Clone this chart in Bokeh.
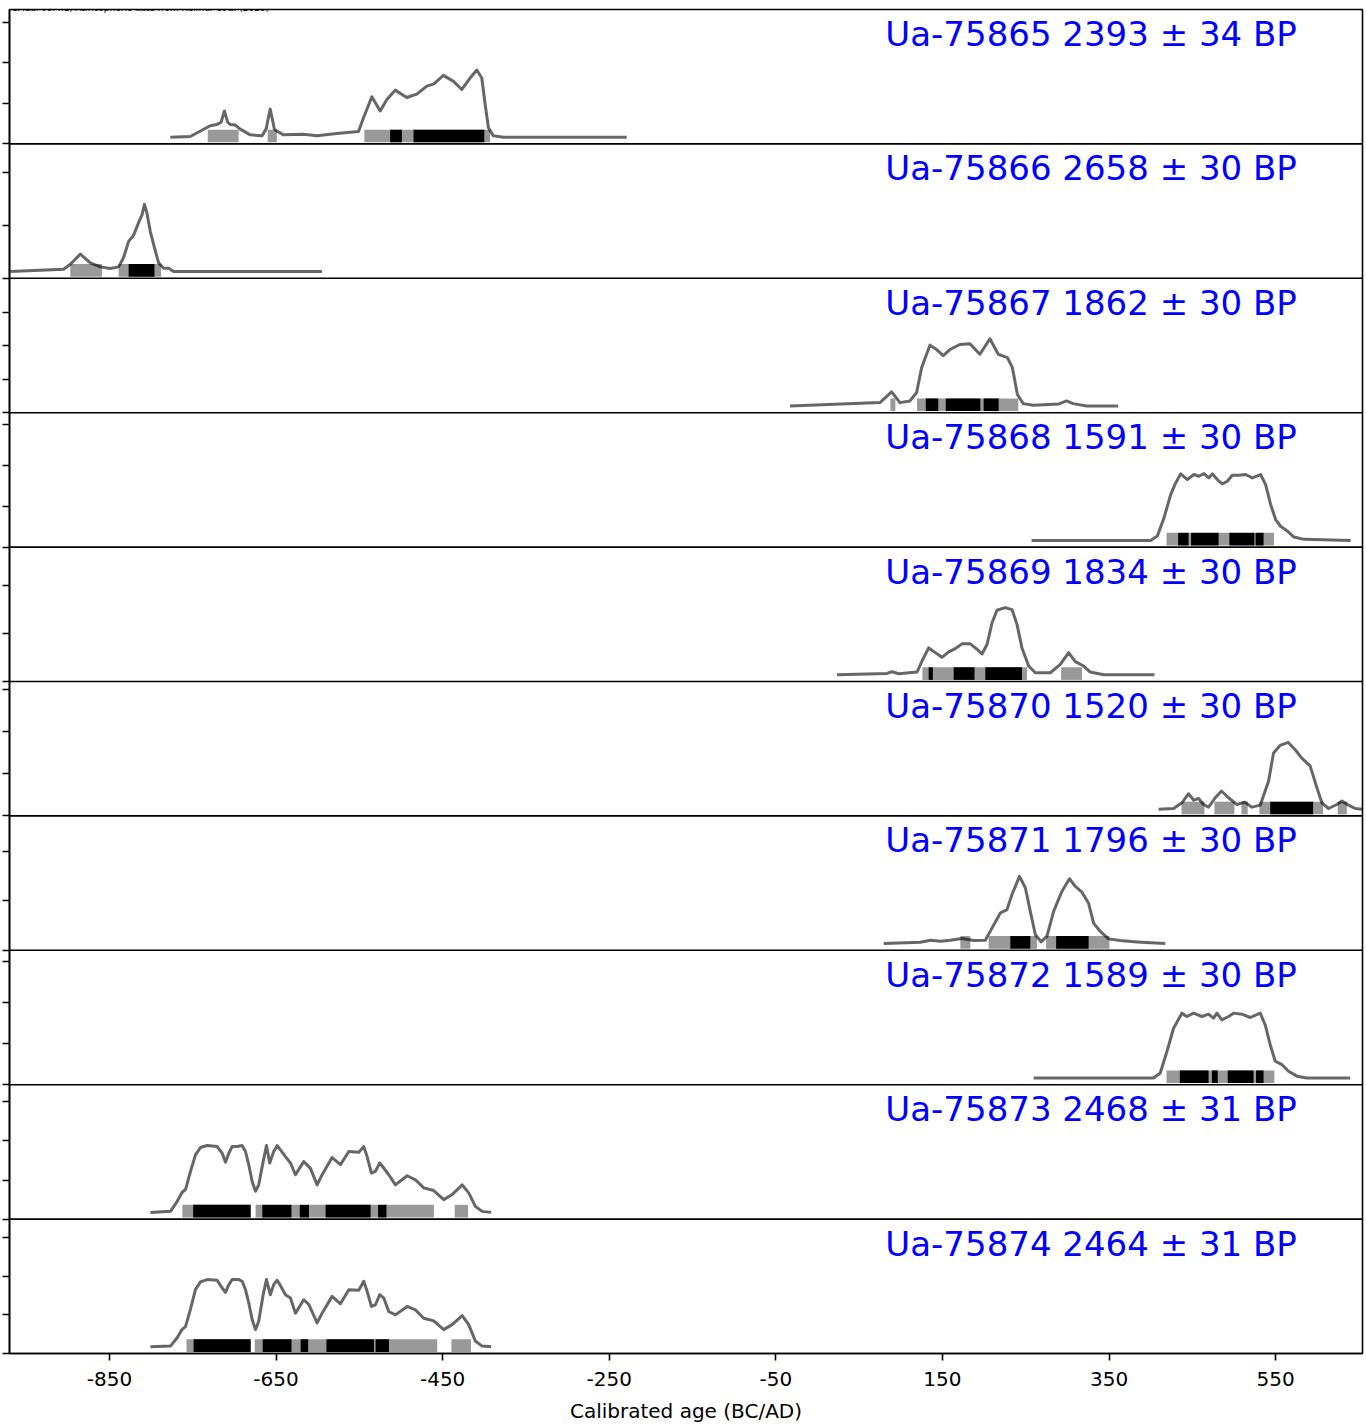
import numpy as np
from bokeh.plotting import figure
from bokeh.models import Range1d, FixedTicker, Span, Label, CustomJSTickFormatter
from bokeh.embed import file_html
from bokeh.resources import INLINE
from bokeh.core.properties import value

FONT = "DejaVu Sans"

title_text = "IOSACal v0.4.1, Atmospheric data from Reimer et al (2020)"
x_label = "Calibrated age (BC/AD)"
xticks = [-850, -650, -450, -250, -50, 150, 350, 550]

labels = [
    "Ua-75865 2393 ± 34 BP", "Ua-75866 2658 ± 30 BP", "Ua-75867 1862 ± 30 BP",
    "Ua-75868 1591 ± 30 BP", "Ua-75869 1834 ± 30 BP", "Ua-75870 1520 ± 30 BP",
    "Ua-75871 1796 ± 30 BP", "Ua-75872 1589 ± 30 BP", "Ua-75873 2468 ± 31 BP",
    "Ua-75874 2464 ± 31 BP",
]

# calibrated probability curves: year (BC/AD) and probability relative to peak
yrs1 = [-777, -753, -729, -721, -716, -712, -708, -705, -699, -693, -681, -667, -662, -659, -657, -655, -652, -649, -641, -617, -601, -577, -561, -551, -545, -535, -525, -517, -507, -493, -481, -469, -461, -449, -437, -427, -417, -409, -403, -399, -395, -389, -377, -229]
rel1 = [0, 0.01, 0.17, 0.19, 0.22, 0.39, 0.22, 0.19, 0.18, 0.12, 0.035, 0.02, 0.12, 0.3, 0.42, 0.3, 0.12, 0.09, 0.035, 0.045, 0.02, 0.055, 0.075, 0.085, 0.29, 0.60, 0.39, 0.56, 0.70, 0.59, 0.64, 0.76, 0.79, 0.92, 0.83, 0.71, 0.88, 1.0, 0.88, 0.49, 0.14, 0.02, 0, 0]
yrs2 = [-969, -905, -897, -885, -873, -861, -849, -839, -833, -827, -821, -815, -811, -808, -805, -801, -796, -791, -785, -779, -773, -595]
rel2 = [0, 0.035, 0.11, 0.26, 0.13, 0.07, 0.045, 0.07, 0.21, 0.45, 0.54, 0.73, 0.84, 1.0, 0.87, 0.60, 0.355, 0.13, 0.05, 0.05, 0, 0]
yrs3 = [-33, 75, 89, 99, 111, 119, 125, 135, 143, 151, 159, 171, 183, 195, 207, 217, 228, 234, 240, 247, 259, 290, 299, 307, 323, 361]
rel3 = [0, 0.05, 0.21, 0.05, 0.075, 0.2, 0.57, 0.905, 0.84, 0.75, 0.84, 0.915, 0.925, 0.77, 1.0, 0.77, 0.72, 0.57, 0.17, 0.035, 0.01, 0.03, 0.075, 0.035, 0, 0]
yrs4 = [257, 400, 408, 416, 424, 430, 436, 444, 452, 458, 464, 470, 474, 480, 486, 492, 498, 506, 514, 522, 532, 538, 544, 550, 556, 564, 572, 584, 640]
rel4 = [0, 0, 0.065, 0.335, 0.68, 0.855, 0.99, 0.905, 0.98, 0.955, 0.995, 0.93, 0.99, 0.905, 0.84, 0.88, 0.97, 0.97, 0.98, 0.93, 0.98, 0.83, 0.535, 0.31, 0.21, 0.14, 0.05, 0.015, 0]
yrs5 = [23.5, 83.5, 89.5, 97.5, 119.5, 125.5, 133.5, 141.5, 149.5, 157.5, 165.5, 173.5, 183.5, 191.5, 197.5, 203.5, 209.5, 215.5, 225.5, 233.5, 239.5, 245.5, 253.5, 261.5, 279.5, 291.5, 301.5, 309.5, 319.5, 327.5, 343.5, 404.5]
rel5 = [0, 0.02, 0.045, 0.015, 0.04, 0.205, 0.40, 0.33, 0.26, 0.34, 0.39, 0.46, 0.46, 0.38, 0.31, 0.45, 0.77, 0.96, 1.0, 0.97, 0.75, 0.40, 0.13, 0.03, 0.03, 0.155, 0.33, 0.195, 0.13, 0.04, 0, 0]
yrs6 = [409.5, 427.5, 437.5, 445.5, 451.5, 457.5, 463.5, 469.5, 477.5, 485, 493.5, 503.5, 513, 521.5, 531.5, 541.5, 547.5, 555.5, 565, 573.5, 581.5, 591.5, 599.5, 605.5, 613.5, 623.5, 629.5, 637.5, 645.5, 655]
rel6 = [0, 0.01, 0.095, 0.23, 0.135, 0.16, 0.07, 0.03, 0.17, 0.27, 0.17, 0.07, 0.105, 0.03, 0.06, 0.415, 0.835, 0.95, 0.995, 0.885, 0.76, 0.64, 0.32, 0.095, 0.01, 0.07, 0.12, 0.06, 0.01, 0]
yrs7 = [79.5, 123.5, 135.5, 147.5, 159.5, 173.5, 187.5, 201.5, 209.5, 219.5, 227.5, 233.5, 242.5, 249.5, 255.5, 261.5, 268.5, 275.5, 283.5, 293.5, 302.5, 309.5, 317.5, 325.5, 331.5, 339.5, 349.5, 363.5, 383.5, 417.5]
rel7 = [0, 0.02, 0.05, 0.035, 0.05, 0.075, 0.045, 0.05, 0.23, 0.455, 0.505, 0.73, 1.0, 0.83, 0.48, 0.135, 0.025, 0.11, 0.48, 0.78, 0.965, 0.85, 0.765, 0.60, 0.305, 0.18, 0.07, 0.045, 0.025, 0]
yrs8 = [259.5, 403.5, 411.5, 419.5, 427.5, 437.5, 443.5, 451.5, 461.5, 469.5, 475.5, 479.5, 485.5, 493.5, 499.5, 509.5, 519.5, 531.5, 537.5, 543.5, 549.5, 557.5, 565.5, 575.5, 587.5, 639.5]
rel8 = [0, 0, 0.075, 0.395, 0.74, 0.965, 0.915, 0.965, 0.915, 0.95, 0.89, 0.965, 0.865, 0.915, 0.965, 0.95, 0.9, 0.965, 0.79, 0.495, 0.25, 0.2, 0.1, 0.027, 0, 0]
yrs9 = [-800.8, -776.8, -768.7, -762.7, -758.7, -752.7, -746.7, -740.7, -732.7, -720.7, -714.7, -710.7, -706.7, -702.7, -696.7, -690.7, -686.7, -682.8, -678.7, -674.7, -670.8, -665.5, -661.5, -657.6, -652.8, -648.7, -644.7, -638.7, -632.7, -626.7, -616.8, -608.7, -600.7, -594.7, -582.7, -572.7, -562.7, -550.7, -544.7, -540.7, -535.5, -530.7, -525.5, -520.7, -514.7, -506.7, -492.6, -482.7, -472.7, -460.7, -448.7, -438.6, -426.6, -418.7, -410.7, -402.6, -391.8]
rel9 = [0, 0.015, 0.165, 0.3, 0.34, 0.61, 0.855, 0.965, 0.995, 0.98, 0.88, 0.745, 0.88, 0.98, 0.98, 0.995, 0.905, 0.71, 0.46, 0.315, 0.41, 0.755, 0.995, 0.735, 0.905, 0.995, 0.93, 0.83, 0.735, 0.56, 0.755, 0.655, 0.41, 0.56, 0.815, 0.71, 0.905, 0.895, 0.98, 0.83, 0.585, 0.61, 0.735, 0.66, 0.56, 0.41, 0.545, 0.485, 0.365, 0.325, 0.19, 0.265, 0.41, 0.29, 0.09, 0.015, 0]
yrs10 = [-800.8, -776.8, -768.7, -762.7, -758.7, -752.7, -746.7, -740.7, -732.7, -720.7, -714.7, -710.7, -706.7, -702.7, -694.7, -690.7, -686.7, -682.8, -678.7, -674.7, -670.8, -665.5, -661.5, -656.9, -652.8, -648.7, -644.7, -638.7, -632.7, -626.7, -616.8, -610.7, -600.7, -594.7, -582.7, -572.7, -562.7, -550.7, -544.7, -540.7, -535.5, -530.7, -525.5, -520.7, -514.7, -506.7, -492.6, -482.7, -472.7, -460.7, -448.7, -438.6, -426.6, -418.7, -410.7, -402.6, -391.8]
rel10 = [0, 0.01, 0.135, 0.26, 0.3, 0.56, 0.855, 0.965, 1.0, 0.99, 0.875, 0.81, 0.925, 1.0, 1.0, 0.975, 0.85, 0.655, 0.405, 0.255, 0.38, 0.775, 1.0, 0.775, 0.925, 0.99, 0.91, 0.775, 0.725, 0.5, 0.7, 0.63, 0.355, 0.5, 0.75, 0.64, 0.85, 0.84, 0.975, 0.825, 0.6, 0.625, 0.775, 0.725, 0.525, 0.475, 0.6, 0.55, 0.425, 0.385, 0.255, 0.33, 0.465, 0.33, 0.085, 0.01, 0]

years = [yrs1, yrs2, yrs3, yrs4, yrs5, yrs6, yrs7, yrs8, yrs9, yrs10]
rels = [rel1, rel2, rel3, rel4, rel5, rel6, rel7, rel8, rel9, rel10]

# 95.4% and 68.2% ranges (from, to)
int95 = [
    [(-732, -695), (-660, -649), (-544, -393)],
    [(-897, -859), (-839, -788)],
    [(87.5, 93.5), (119.5, 241)],
    [(419, 548)],
    [(126, 251.5), (292.5, 317.5)],
    [(437, 464.5), (476.5, 500.5), (509, 516.5), (530.5, 607), (624.5, 635.5)],
    [(171.5, 183.5), (205.5, 263.5), (274.5, 350.5)],
    [(419, 548.5)],
    [(-762.5, -680.5), (-674.5, -460.5), (-435.5, -419.5)],
    [(-757.5, -680.5), (-675.5, -456.5), (-439.5, -416)],
]
int68 = [
    [(-513, -499), (-485, -400)],
    [(-827, -796)],
    [(130, 145), (154, 195.5), (199.5, 217.5)],
    [(433, 445.5), (448.5, 481.5), (494.5, 524.5), (526, 535.5)],
    [(133.5, 138.5), (163.5, 188.5), (201.5, 245.5)],
    [(543.5, 595)],
    [(231.5, 255.5), (286.5, 325.5)],
    [(435, 469.5), (473.5, 480.5), (492.5, 523.5), (526.5, 535.5)],
    [(-749.5, -680.5), (-666.5, -631.5), (-621.5, -610.5), (-590.5, -536.5), (-527.5, -517.5)],
    [(-749, -680.5), (-666, -631.5), (-620.5, -611.5), (-589.5, -532.5), (-530.5, -514.5)],
]

# peak probability density of each sample and its y tick step
peak_density = [0.00829, 0.02535, 0.01003, 0.00825, 0.0140, 0.0159, 0.01357, 0.00819, 0.0043, 0.00436]
tick_step = [0.005, 0.02, 0.005, 0.005, 0.01, 0.01, 0.01, 0.005, 0.0025, 0.0025]

n = len(labels)
label_year = 81.5
x_start, x_end = -970.0, 654.3

p = figure(frame_width=1353, frame_height=1344,
           x_range=Range1d(x_start, x_end), y_range=Range1d(0, n),
           output_backend="svg", toolbar_location=None,
           min_border_left=9, min_border_right=4, min_border_top=9, min_border_bottom=0,
           background_fill_color="white", border_fill_color="white")
p.xgrid.visible = False
p.ygrid.visible = False
p.outline_line_color = "black"
p.outline_line_width = 1.6

ytick_pos = []
for i in range(n):
    off = n - 1 - i
    P = peak_density[i]
    ymax = 2 * P
    l95 = [a for a, b in int95[i]]
    r95 = [b for a, b in int95[i]]
    p.quad(left=l95, right=r95, bottom=off + 0.012, top=off + 0.106,
           fill_color="#999999", line_color=None)
    l68 = [a for a, b in int68[i]]
    r68 = [b for a, b in int68[i]]
    p.quad(left=l68, right=r68, bottom=off + 0.012, top=off + 0.106,
           fill_color="black", line_color=None)
    dens = np.array(rels[i]) * P
    yy = off + (dens + 0.1 * P) / ymax
    p.line(years[i], yy, line_color="black", line_alpha=0.6, line_width=3,
           line_join="round")
    t = 0.0
    while t <= ymax * 1.0001:
        ytick_pos.append(off + t / ymax)
        t += tick_step[i]
    if i > 0:
        p.add_layout(Span(location=off + 1, dimension="width", line_color="black", line_width=1.6))

p.text(x=[label_year] * n, y=[n - 1 - i + 0.818 for i in range(n)], text=labels,
       text_font=value(FONT), text_font_size="34px", text_color="blue",
       text_baseline="alphabetic", text_align="left")

p.yaxis.ticker = FixedTicker(ticks=sorted(set(round(v, 6) for v in ytick_pos)))
p.yaxis.formatter = CustomJSTickFormatter(code="return ''")
p.yaxis.major_label_text_font_size = "0px"
p.yaxis.major_label_text_color = None
p.yaxis.major_label_standoff = 0
p.yaxis.major_tick_out = 7
p.yaxis.major_tick_in = 0
p.yaxis.major_tick_line_width = 1.6
p.yaxis.minor_tick_line_color = None
p.yaxis.axis_line_width = 1.6

p.xaxis.ticker = FixedTicker(ticks=xticks)
p.xaxis.formatter = CustomJSTickFormatter(code="return String(Math.round(tick))")
p.xaxis.major_label_text_font = FONT
p.xaxis.major_label_text_font_size = "20px"
p.xaxis.major_label_text_color = "black"
p.xaxis.major_label_standoff = 11
p.xaxis.major_tick_out = 7
p.xaxis.major_tick_in = 0
p.xaxis.major_tick_line_width = 1.6
p.xaxis.minor_tick_line_color = None
p.xaxis.axis_line_width = 1.6
p.xaxis.axis_label = x_label
p.xaxis.axis_label_text_font = FONT
p.xaxis.axis_label_text_font_size = "20px"
p.xaxis.axis_label_text_font_style = "normal"
p.xaxis.axis_label_text_color = "black"
p.xaxis.axis_label_standoff = 10

p.add_layout(Label(x=x_start, y=n, x_offset=-7, y_offset=2, text=title_text,
                   text_font=FONT, text_font_size="9px", text_color="black",
                   text_baseline="alphabetic"))

open("out.html", "w").write(file_html(p, INLINE))
